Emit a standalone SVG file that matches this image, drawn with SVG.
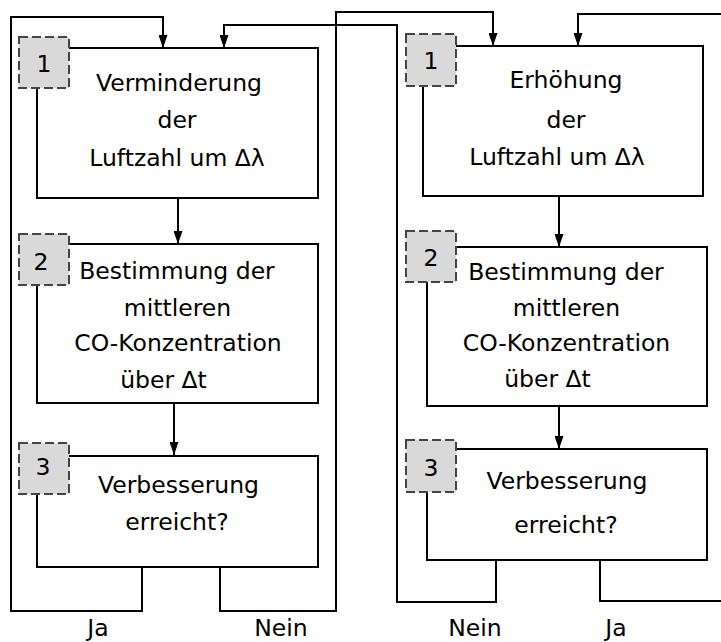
<svg xmlns="http://www.w3.org/2000/svg" width="721" height="642" viewBox="0 0 721 642">
  <defs>
    <marker id="arrow" viewBox="0 0 13 9" refX="13" refY="4.5" markerWidth="13" markerHeight="9" markerUnits="userSpaceOnUse" orient="auto">
      <path d="M0,0 L13,4.5 L0,9 Z" fill="#000"/>
    </marker>
  </defs>
  <style>
    .box { fill: #fff; stroke: #000; stroke-width: 2; }
    .badge { fill: #d9d9d9; stroke: #444; stroke-width: 2; stroke-dasharray: 9 4; }
    .wire { fill: none; stroke: #000; stroke-width: 2; }
    .arr { marker-end: url(#arrow); }
    text { font-family: "DejaVu Sans", sans-serif; font-size: 23.5px; fill: #000; text-anchor: middle; }
  </style>
  <rect width="721" height="642" fill="#fff"/>

  <!-- connectors -->
  <g id="connectors">
    <!-- left chain -->
    <path class="wire arr" d="M178,198 V244"/>
    <path class="wire arr" d="M174,403 V455"/>
    <!-- left "Ja": loop back to step 1 -->
    <path class="wire arr" d="M142,567 V611 H11 V17 H163 V48"/>
    <!-- left "Nein": over to the right-hand step 1 -->
    <path class="wire arr" d="M220,567 V611 H336 V12 H493 V46"/>
    <!-- right chain -->
    <path class="wire arr" d="M559,196 V247"/>
    <path class="wire arr" d="M559,406 V449"/>
    <!-- right "Nein": back to the left-hand step 1 -->
    <path class="wire arr" d="M496,560 V602 H397 V25 H224 V48"/>
    <!-- right "Ja": loop back to step 1 -->
    <path class="wire" d="M600,560 V601 H722"/>
    <path class="wire arr" d="M722,14 H578 V46"/>
  </g>

  <!-- left column -->
  <g id="left-step1">
    <rect class="box" x="37" y="48" width="281" height="150"/>
    <rect class="badge" x="19" y="37" width="50" height="51"/>
    <text x="44" y="72">1</text>
    <text x="179" y="91">Verminderung</text>
    <text x="177" y="128">der</text>
    <text x="177" y="166">Luftzahl um Δλ</text>
  </g>
  <g id="left-step2">
    <rect class="box" x="37" y="244" width="281" height="159"/>
    <rect class="badge" x="19" y="234" width="50" height="51"/>
    <text x="41" y="270">2</text>
    <text x="177" y="279">Bestimmung der</text>
    <text x="177.5" y="316">mittleren</text>
    <text x="178" y="351">CO-Konzentration</text>
    <text x="163.5" y="388">über Δt</text>
  </g>
  <g id="left-step3">
    <rect class="box" x="37" y="456" width="281" height="111"/>
    <rect class="badge" x="19" y="443" width="50" height="51"/>
    <text x="43" y="475">3</text>
    <text x="178.5" y="493">Verbesserung</text>
    <text x="177" y="530">erreicht?</text>
  </g>

  <!-- right column -->
  <g id="right-step1">
    <rect class="box" x="423" y="46" width="280" height="150"/>
    <rect class="badge" x="406" y="34" width="50" height="52"/>
    <text x="431" y="69">1</text>
    <text x="566" y="88">Erhöhung</text>
    <text x="566" y="128">der</text>
    <text x="557" y="165">Luftzahl um Δλ</text>
  </g>
  <g id="right-step2">
    <rect class="box" x="427" y="247" width="280" height="159"/>
    <rect class="badge" x="406" y="231" width="50" height="51"/>
    <text x="431" y="266">2</text>
    <text x="566" y="280">Bestimmung der</text>
    <text x="566.5" y="316">mittleren</text>
    <text x="566.5" y="351">CO-Konzentration</text>
    <text x="547.5" y="387">über Δt</text>
  </g>
  <g id="right-step3">
    <rect class="box" x="427" y="449" width="280" height="111"/>
    <rect class="badge" x="406" y="440" width="50" height="52"/>
    <text x="431" y="476">3</text>
    <text x="567" y="489">Verbesserung</text>
    <text x="566" y="533">erreicht?</text>
  </g>

  <!-- branch labels -->
  <g id="labels">
    <text x="98" y="636">Ja</text>
    <text x="281" y="636">Nein</text>
    <text x="475" y="636">Nein</text>
    <text x="616" y="636">Ja</text>
  </g>
</svg>
